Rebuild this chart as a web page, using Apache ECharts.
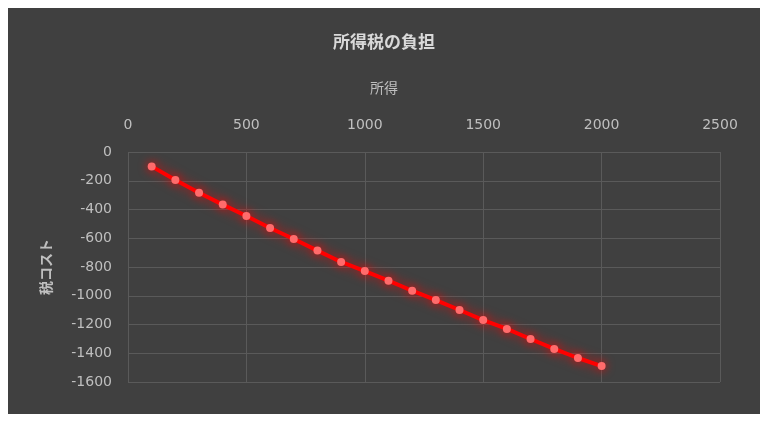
<!DOCTYPE html>
<html><head><meta charset="utf-8">
<script src="https://cdn.jsdelivr.net/npm/echarts@6/dist/echarts.min.js"></script>
<style>
html,body{margin:0;padding:0;background:#ffffff;}
#panel{position:absolute;left:8px;top:8px;width:752px;height:406px;background:#404040;}
#c{position:absolute;left:0;top:0;width:768px;height:422px;}
</style></head>
<body>
<div id="panel"></div>
<div id="c"></div>
<script>
const titleText = '所得税の負担';
const xName = '所得';
const yName = '税コスト';
const income = [100,200,300,400,500,600,700,800,900,1000,1100,1200,1300,1400,1500,1600,1700,1800,1900,2000];
const taxCost = [-100,-195,-283,-366,-445,-529,-605,-686,-765,-828,-895,-965,-1030,-1099,-1169,-1231,-1301,-1370,-1433,-1489];

const font = "'DejaVu Sans', sans-serif";
const cjk = "'Noto Sans CJK JP', sans-serif";
const chart = echarts.init(document.getElementById('c'), null, {renderer:'canvas'});
chart.setOption({
  backgroundColor: 'transparent',
  animation: false,
  title: [{
    text: titleText, left: 'center', top: 28,
    textStyle: {color:'#d9d9d9', fontSize:17, fontWeight:'bold', fontFamily: cjk}
  },{
    text: xName, left: 'center', top: 76,
    textStyle: {color:'#bfbfbf', fontSize:14, fontWeight:'normal', fontFamily: cjk}
  }],
  grid: {left:128, right:48, top:152, bottom:40},
  xAxis: {
    type:'value', position:'top', min:0, max:2500, interval:500,
    axisLine:{show:false}, axisTick:{show:false},
    axisLabel:{color:'#bfbfbf', fontSize:14, fontFamily: font, margin:20, formatter: v => String(v)},
    splitLine:{show:true, lineStyle:{color:'#5a5a5a', width:1}}
  },
  yAxis: {
    type:'value', min:-1600, max:0, interval:200,
    name: yName, nameLocation:'middle', nameGap:75, nameRotate:90,
    nameTextStyle:{color:'#bfbfbf', fontSize:14, fontWeight:'bold', fontFamily: cjk},
    axisLine:{show:false}, axisTick:{show:false},
    axisLabel:{color:'#bfbfbf', fontSize:14, fontFamily: font, margin:16, formatter: v => String(v)},
    splitLine:{show:true, lineStyle:{color:'#5a5a5a', width:1}}
  },
  series: [{
    type:'line',
    data: income.map((x,i)=>[x, taxCost[i]]),
    symbol:'circle', symbolSize:8,
    lineStyle:{color:'#ff0000', width:4, shadowColor:'rgba(255,0,0,0.75)', shadowBlur:12},
    itemStyle:{color:'#ff6b6b', borderWidth:0, shadowColor:'rgba(255,0,0,0.8)', shadowBlur:10}
  }]
});
</script>
</body></html>
